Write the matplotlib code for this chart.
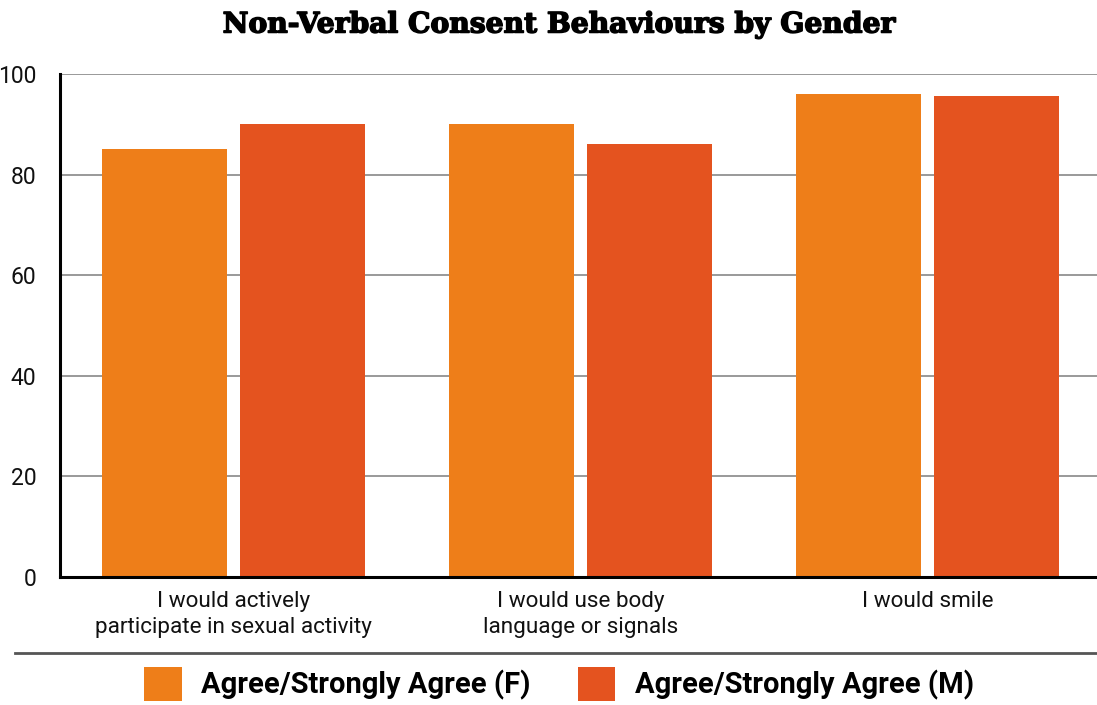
import matplotlib
matplotlib.use('Agg')
from matplotlib import pyplot as plt
from matplotlib import patheffects
from matplotlib.patches import Patch
from matplotlib.lines import Line2D
import numpy as np

categories = ['I would actively\nparticipate in sexual activity',
              'I would use body\nlanguage or signals',
              'I would smile']
female = [85, 90, 96]
male = [90, 86, 95.6]
series_names = ['Agree/Strongly Agree (F)', 'Agree/Strongly Agree (M)']
y_ticks = [0, 20, 40, 60, 80, 100]

color_f = '#EE7E19'
color_m = '#E4531F'

plt.rcParams['font.family'] = ['Roboto', 'DejaVu Sans']

W, H = 1097, 705
fig = plt.figure(figsize=(W / 100, H / 100), dpi=100)
ax = fig.add_axes([60 / W, 1 - 577 / H, 1041 / W, (577 - 74) / H])

x = np.arange(len(categories))
width = 0.36
ax.bar(x - 0.2, female, width, color=color_f, zorder=3)
ax.bar(x + 0.2, male, width, color=color_m, zorder=3)

ax.set_xlim(-0.5, 2.5)
ax.set_ylim(0, 100)
ax.set_yticks(y_ticks)
ax.set_xticks(x)
ax.set_xticklabels(categories, fontsize=16.2, color='#111111', linespacing=1.32)
ax.tick_params(axis='y', length=0, pad=17, labelsize=16.5, labelcolor='#111111')
ax.tick_params(axis='x', length=0, pad=10)

ax.yaxis.grid(True, color='#999999', linewidth=1.4, zorder=0)
for side in ['top', 'right']:
    ax.spines[side].set_visible(False)
for side in ['left', 'bottom']:
    ax.spines[side].set_color('black')
    ax.spines[side].set_linewidth(2.2)
    ax.spines[side].set_zorder(4)

# heavy slab title: serif bold thickened with a thin stroke
fig.text(560 / W, 1 - 25 / H, 'Non-Verbal Consent Behaviours by Gender',
         ha='center', va='center', fontsize=20.3, fontweight='bold',
         family=['DejaVu Serif'],
         path_effects=[patheffects.withStroke(linewidth=1.1, foreground='black')])

# separator above the legend
fig.add_artist(Line2D([15 / W, 1.0], [1 - 653 / H, 1 - 653 / H],
                      color='#555555', linewidth=2, transform=fig.transFigure))

handles = [Patch(facecolor=color_f), Patch(facecolor=color_m)]
fig.legend(handles, series_names, loc='center', bbox_to_anchor=(559 / W, 1 - 684 / H),
           ncol=2, frameon=False, prop={'family': 'Roboto', 'weight': 'bold', 'size': 21},
           handlelength=1.3, handleheight=1.37, handletextpad=0.68, columnspacing=1.6,
           borderpad=0, borderaxespad=0)

fig.savefig('out.png', dpi=100)
